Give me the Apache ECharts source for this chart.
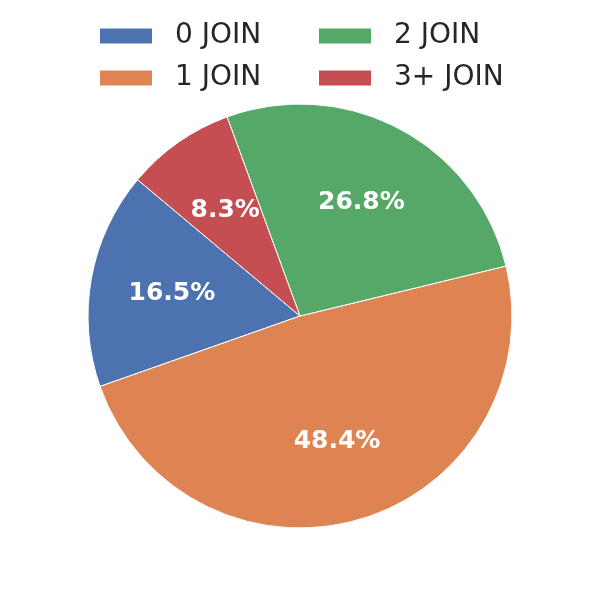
<!DOCTYPE html>
<html>
<head>
<meta charset="utf-8">
<script src="https://cdn.jsdelivr.net/npm/echarts@6/dist/echarts.min.js"></script>
<style>html,body{margin:0;padding:0;background:#fff}#c{width:600px;height:600px}</style>
</head>
<body>
<div id="c"></div>
<script>
const categories = ['0 JOIN', '1 JOIN', '2 JOIN', '3+ JOIN'];
const values = [16.5, 48.4, 26.8, 8.3];
const colors = ['#4c72b0', '#dd8452', '#55a868', '#c44e52'];

const chart = echarts.init(document.getElementById('c'), null, {renderer: 'canvas'});
const data = categories.map((c, i) => ({name: c, value: values[i], itemStyle: {color: colors[i]}}));
const legendPos = [
  {left: 98, top: 22},
  {left: 98, top: 64},
  {left: 317, top: 22},
  {left: 317, top: 64}
];
const legends = categories.map((c, i) => ({
  data: [c],
  left: legendPos[i].left,
  top: legendPos[i].top,
  padding: 0,
  orient: 'horizontal',
  itemWidth: 54,
  itemHeight: 17,
  itemGap: 0,
  icon: 'rect',
  selectedMode: false,
  textStyle: {fontFamily: 'DejaVu Sans', fontSize: 28, color: '#262626', padding: [0, 0, 0, 17]}
}));
chart.setOption({
  animation: false,
  color: colors,
  legend: legends,
  series: [
    {
      type: 'pie',
      center: [300, 316],
      radius: [0, 212],
      startAngle: 140,
      clockwise: false,
      data: data,
      label: {show: false},
      labelLine: {show: false},
      itemStyle: {borderColor: '#ffffff', borderWidth: 1},
      emphasis: {disabled: true}
    },
    {
      type: 'pie',
      center: [300, 317],
      radius: [42.4, 212],
      startAngle: 140,
      clockwise: false,
      silent: true,
      legendHoverLink: false,
      data: categories.map((c, i) => ({name: c, value: values[i], itemStyle: {color: 'rgba(0,0,0,0)'}})),
      itemStyle: {borderWidth: 0},
      label: {
        show: true,
        position: 'inside',
        formatter: p => p.value.toFixed(1) + '%',
        fontFamily: 'DejaVu Sans',
        fontWeight: 'bold',
        fontSize: 25,
        color: '#ffffff'
      },
      labelLine: {show: false},
      emphasis: {disabled: true}
    }
  ]
});
</script>
</body>
</html>
